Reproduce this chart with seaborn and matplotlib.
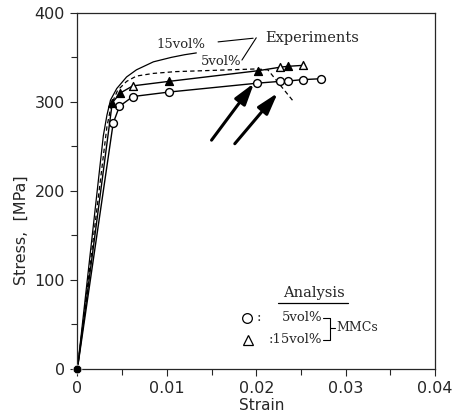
import matplotlib
matplotlib.use("Agg")
import matplotlib.pyplot as plt
import seaborn as sns
import pandas as pd
import numpy as np

# ---- data ----
strain_a5 = [0.0, 0.0040, 0.0047, 0.0062, 0.0102, 0.0201, 0.0226, 0.0236, 0.0252, 0.0272]
stress_a5 = [0, 276, 295, 306, 311, 321, 323, 323.5, 325, 326]

strain_a15 = [0.0, 0.0039, 0.0048, 0.0062, 0.0102, 0.0202, 0.0227, 0.0236, 0.0252]
stress_a15 = [0, 299, 310, 318, 323, 335, 339, 340, 341]
filled_a15 = [True, True, True, False, True, True, False, True, False]

strain_e15 = [0.0, 0.0029, 0.0033, 0.0037, 0.0044, 0.0055, 0.0066, 0.0085, 0.0105, 0.0120, 0.0133]
stress_e15 = [0, 262, 285, 302, 315, 328, 336, 345, 350, 353, 355]

strain_e5 = [0.0, 0.0033, 0.0038, 0.0045, 0.0055, 0.0066, 0.0085, 0.0110, 0.0140, 0.0170, 0.0200, 0.0213, 0.0242]
stress_e5 = [0, 272, 297, 313, 323, 329, 332, 334, 335, 336, 337, 336, 300]

x_ticks = [0, 0.01, 0.02, 0.03, 0.04]
x_tick_labels = ["0", "0.01", "0.02", "0.03", "0.04"]
y_ticks = [0, 100, 200, 300, 400]

arrow_tails = [(0.01500, 257), (0.01760, 253)]
arrow_heads = [(0.01975, 321), (0.02240, 310)]

# ---- style ----
sns.set_style("ticks")
plt.rcParams["font.family"] = ["DejaVu Sans"]
plt.rcParams["axes.linewidth"] = 0.9

fig = plt.figure(figsize=(4.58, 4.15), dpi=100)
ax = fig.add_axes([0.169, 0.111, 0.781, 0.858])

df_a5 = pd.DataFrame({"strain": strain_a5, "stress": stress_a5})
df_a15 = pd.DataFrame({"strain": strain_a15, "stress": stress_a15, "filled": filled_a15})
df_e15 = pd.DataFrame({"strain": strain_e15, "stress": stress_e15})
df_e5 = pd.DataFrame({"strain": strain_e5, "stress": stress_e5})

# experiments
sns.lineplot(data=df_e15, x="strain", y="stress", sort=False, color="black", lw=0.9, ax=ax)
sns.lineplot(data=df_e5, x="strain", y="stress", sort=False, color="black", lw=0.9,
             linestyle=(0, (3.5, 2.5)), ax=ax)
# analysis
sns.lineplot(data=df_a5, x="strain", y="stress", sort=False, color="black", lw=1.0, ax=ax)
sns.lineplot(data=df_a15, x="strain", y="stress", sort=False, color="black", lw=1.0, ax=ax)

sns.scatterplot(data=df_a5.iloc[1:], x="strain", y="stress", marker="o", s=32,
                facecolor="white", edgecolor="black", linewidth=1.0, zorder=5, ax=ax)
tri_f = df_a15.iloc[1:][df_a15.iloc[1:]["filled"]]
tri_o = df_a15.iloc[1:][~df_a15.iloc[1:]["filled"]]
sns.scatterplot(data=tri_f, x="strain", y="stress", marker="^", s=32,
                color="black", edgecolor="black", linewidth=1.0, zorder=5, ax=ax)
sns.scatterplot(data=tri_o, x="strain", y="stress", marker="^", s=32,
                facecolor="white", edgecolor="black", linewidth=1.0, zorder=5, ax=ax)
sns.scatterplot(x=[strain_a5[0]], y=[stress_a5[0]], marker="o", s=40, color="black",
                zorder=6, clip_on=False, ax=ax)

# arrows
for t, h in zip(arrow_tails, arrow_heads):
    ax.annotate("", xy=h, xytext=t,
                arrowprops=dict(arrowstyle="-|>,head_length=1.0,head_width=0.3",
                                mutation_scale=13, lw=2.2, color="black",
                                shrinkA=0, shrinkB=0))

serif = ["DejaVu Serif"]
# experiment labels
ax.text(0.01159, 364, "15vol%", family=serif, fontsize=9.5, ha="center", va="center")
ax.text(0.01607, 345, "5vol%", family=serif, fontsize=9.5, ha="center", va="center")
ax.text(0.0210, 372, "Experiments", family=serif, fontsize=10.5, ha="left", va="center")
ax.plot([0.01573, 0.01965], [367.4, 371.5], color="black", lw=0.8)
ax.plot([0.01840, 0.02000], [347.0, 372.0], color="black", lw=0.8)

# analysis legend
ax.text(0.02640, 85.4, "Analysis", family=serif, fontsize=10.5, ha="center", va="center")
ax.plot([0.02245, 0.03030], [74.2, 74.2], color="black", lw=0.9)
ax.plot([0.01898], [57.3], marker="o", ms=7, mfc="white", mec="black", mew=0.9)
ax.plot([0.01910], [32.6], marker="^", ms=7, mfc="white", mec="black", mew=0.9)
ax.text(0.02000, 57.3, ":", family=serif, fontsize=9.5, ha="left", va="center")
ax.text(0.02738, 57.3, "5vol%", family=serif, fontsize=9.5, ha="right", va="center")
ax.text(0.02738, 32.6, ":15vol%", family=serif, fontsize=9.5, ha="right", va="center")
ax.plot([0.02745, 0.02827, 0.02827, 0.02745], [57.3, 57.3, 32.6, 32.6], color="black", lw=0.8)
ax.plot([0.02827, 0.02884], [46.1, 46.1], color="black", lw=0.8)
ax.text(0.02895, 46.1, "MMCs", family=serif, fontsize=9, ha="left", va="center")

# axes
ax.set_xlim(0, 0.04)
ax.set_ylim(0, 400)
ax.set_xticks(x_ticks)
ax.set_xticklabels(x_tick_labels)
ax.set_yticks(y_ticks)
ax.set_xticks(np.arange(0.005, 0.04, 0.01), minor=True)
ax.set_yticks(np.arange(50, 400, 100), minor=True)
ax.tick_params(which="major", direction="out", length=5, width=0.8, pad=4, labelsize=11.5)
ax.tick_params(which="minor", direction="out", length=4.5, width=0.8)
for s in ax.spines.values():
    s.set_visible(True)
    s.set_linewidth(0.9)

ax.set_xlabel("Strain", fontsize=11)
ax.set_ylabel("Stress,  [MPa]", fontsize=11.5)
ax.xaxis.set_label_coords(0.515, -0.083)
ax.yaxis.set_label_coords(-0.136, 0.39)

fig.savefig("out.png", dpi=100)
